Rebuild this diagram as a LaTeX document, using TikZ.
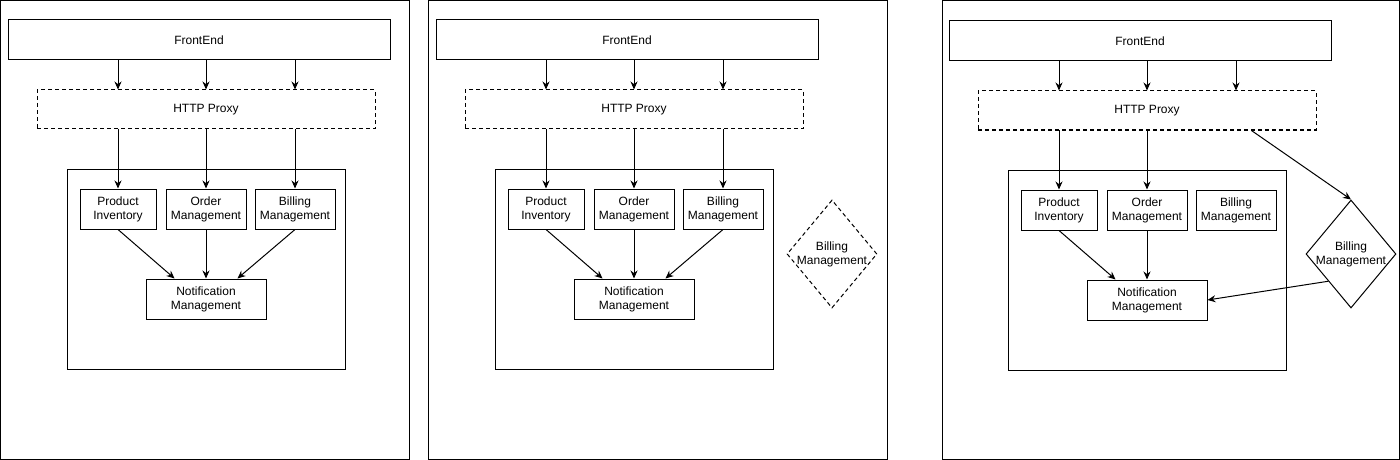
\documentclass[tikz,border=0pt]{standalone}
\usepackage{fontspec}
\setmainfont{Liberation Sans}
\usetikzlibrary{arrows.meta, shapes.geometric, calc}

\begin{document}
\begin{tikzpicture}[x=0.75pt, y=-0.75pt, line width=0.75pt,
		font=\fontsize{9}{10.5}\selectfont,
		box/.style={draw, rectangle, align=center, inner sep=0pt, minimum height=30pt},
		proxybox/.style={box, dash pattern=on 3pt off 2.25pt},
		gate/.style={draw, diamond, inner sep=0pt, minimum width=67.5pt, minimum height=81pt},
		link/.style={-{Stealth[length=6pt, width=5.25pt]}}]
	\useasboundingbox (0,0) rectangle (1400,460);

	% the three frames
	\draw (0.5,0.5) rectangle (409,459);
	\draw (428,0.5) rectangle (887,459);
	\draw (942,0.5) rectangle (1399,459);

	\foreach \i/\dx/\dy in {1/0/0, 2/428/0, 3/941/1} {
		\begin{scope}[shift={(\dx,\dy)}]
			\node[box, minimum width=286.5pt] (fe\i) at (199,40) {FrontEnd};
			\node[proxybox, minimum width=253.5pt, minimum height=29.25pt] (px\i) at (206,109.5) {HTTP Proxy};
			\node[box, minimum width=208.5pt, minimum height=150pt] (svc\i) at (206,269) {};
			\node[box, minimum width=57pt] (pi\i) at (118,209) {Product\\Inventory};
			\node[box, minimum width=60pt] (om\i) at (206,209) {Order\\Management};
			\node[box, minimum width=60pt] (bm\i) at (295,209) {Billing\\Management};
			\node[box, minimum width=90pt] (nt\i) at (206,299) {Notification\\Management};

			\draw[link] (pi\i |- fe\i.south) -- (pi\i |- px\i.north);
			\draw[link] (om\i |- fe\i.south) -- (om\i |- px\i.north);
			\draw[link] (bm\i |- fe\i.south) -- (bm\i |- px\i.north);
			\draw[link] (pi\i |- px\i.south) -- (pi\i.north);
			\draw[link] (om\i |- px\i.south) -- (om\i.north);
			\draw[link] (pi\i.south) -- ($(nt\i.north west)!0.24!(nt\i.north east)$);
			\draw[link] (om\i.south) -- (nt\i.north);
			\ifnum\i<3
				\draw[link] (bm\i |- px\i.south) -- (bm\i.north);
				\draw[link] (bm\i.south) -- ($(nt\i.north west)!0.76!(nt\i.north east)$);
			\fi
		\end{scope}
	}

	% billing split out
	\node[gate, dash pattern=on 3pt off 2.25pt] (bd2) at (832,254) {};
	\node[align=center] (bd2txt) at (bd2.center) {Billing\\Management};

	\node[gate] (bd3) at (1351,254) {};
	\node[align=center] (bd3txt) at (bd3.center) {Billing\\Management};

	\draw[link] ($(px3.south west)!0.808!(px3.south east)$) -- (bd3.north);
	\draw[link] ($(bd3.west)!0.5!(bd3.south)$) -- (nt3.east);
\end{tikzpicture}
\end{document}
